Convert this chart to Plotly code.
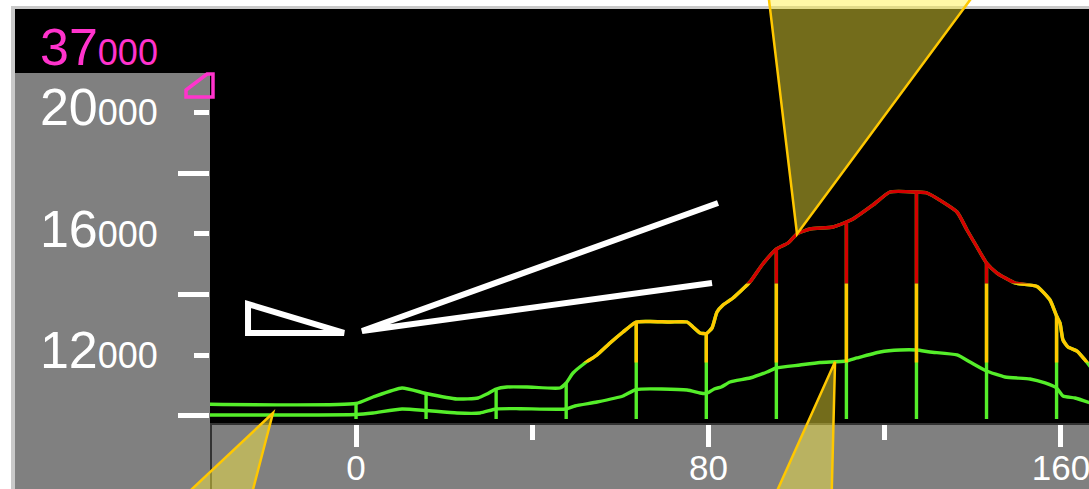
import plotly.graph_objects as go

# ---------------- data ----------------
dist_upper = [-33.14, 0, 3.86, 10.44, 15.9, 22.92, 27.69, 29.73, 31.8, 34.27, 38.81, 46.30, 47.7,
              49.25, 51.97, 54.70, 57.65, 60.60, 63.6, 66.73, 71.27, 75.13, 76.49, 78.08, 79.5,
              80.80, 81.93, 83.30, 85.56, 89.42, 92.15, 95.4, 98.05, 100.09, 103.04, 108.26,
              111.3, 112.80, 117.34, 121.20, 127.2, 129.60, 136.40, 138.67, 140.94, 143.1,
              145.48, 149.57, 154.56, 157.51, 159.0, 159.78, 160.46, 161.60, 163.64, 165.46, 167.73]
elev_upper = [10386, 10412, 10626, 10923, 10742, 10560, 10593, 10725, 10890, 10956, 10956, 10923, 11088,
              11417, 11747, 12011, 12406, 12769, 13098, 13115, 13098, 13098, 12933, 12736, 12719,
              12900, 13428, 13659, 13889, 14417, 14977, 15504, 15702, 15999, 16163, 16229,
              16394, 16493, 16955, 17383, 17383, 17350, 16724, 16131, 15570, 15043,
              14713, 14384, 14268, 13823, 13296, 13065, 12505, 12274, 12142, 11846, 11417]

dist_lower = [-33.14, 0, 3.86, 10.44, 15.9, 22.92, 28.14, 31.8, 37.22, 47.7, 49.70, 54.70, 60.60,
              63.6, 75.13, 78.08, 79.5, 81.30, 82.89, 84.88, 89.42, 93.28, 95.4, 100.77, 105.31,
              111.3, 113.71, 118.93, 123.47, 127.2, 130.28, 136.40, 139.36, 143.1, 147.30, 152.97,
              156.38, 159.0, 160.46, 163.18, 167.73]
elev_lower = [10033, 10049, 10099, 10231, 10181, 10099, 10099, 10231, 10241, 10231, 10330, 10461, 10659,
              10873, 10857, 10758, 10742, 10890, 10956, 11121, 11252, 11450, 11582, 11681, 11763,
              11813, 11912, 12109, 12175, 12175, 12109, 12011, 11780, 11483, 11285, 11220,
              11088, 10923, 10659, 10593, 10379]

marker_dist = [0, 15.9, 31.8, 47.7, 63.6, 79.5, 95.4, 111.3, 127.2, 143.1, 159.0]
marker_top = [10412, 10742, 10890, 11088, 13098, 12719, 15504, 16394, 17383, 15043, 13296]
marker_base = 9900

band_low = 11760
band_high = 14370

x_ticks = [0, 80, 160]
x_ticktext = ["0", "80", "160"]
x_minor = [40, 120]
y_ticks = [12000, 16000, 20000]
y_ticktext = ["<span style='font-size:52px'>12</span>000",
              "<span style='font-size:52px'>16</span>000",
              "<span style='font-size:52px'>20</span>000"]
y_minor = [10000, 14000, 18000]
top_label = "37<span style='font-size:36px'>000</span>"

# ---------------- layout constants ----------------
W, H = 1089, 489
ML, MR, MT, MB = 210, 0, 9, 66
X_RANGE = [-33.14, 166.36]
Y_RANGE = [9769, 23415]

GREEN = "#55ee2a"
GOLD = "#ffc800"
RED = "#d40000"
GRAY = "#808080"
FONT = "Liberation Sans, Arial, sans-serif"
LW = 3.4
LINE = dict(width=LW, shape="spline", smoothing=0.5)

PW, PH = W - ML - MR, H - MT - MB


def px_x(px):
    return (px - ML) / PW


def px_y(py):
    return (H - MB - py) / PH


def dx(x):
    return (x - X_RANGE[0]) / (X_RANGE[1] - X_RANGE[0])


def dy(v):
    return (v - Y_RANGE[0]) / (Y_RANGE[1] - Y_RANGE[0])


def path(pts, close=True):
    s = "M " + " L ".join(f"{dx(a):.5f},{dy(b):.5f}" for a, b in pts)
    return s + (" Z" if close else "")


d_low = dy(band_low)
d_high = dy(band_high)

vx, vy = [], []
for xm, top in zip(marker_dist, marker_top):
    vx += [xm, xm, None]
    vy += [marker_base, top, None]

fig = go.Figure()
# green base layer
fig.add_trace(go.Scatter(x=dist_lower, y=elev_lower, mode="lines",
                         line=dict(color=GREEN, **LINE), xaxis="x", yaxis="y"))
fig.add_trace(go.Scatter(x=vx, y=vy, mode="lines", line=dict(color=GREEN, width=LW),
                         xaxis="x", yaxis="y", connectgaps=False))
fig.add_trace(go.Scatter(x=dist_upper, y=elev_upper, mode="lines",
                         line=dict(color=GREEN, **LINE), xaxis="x", yaxis="y"))
# yellow band
fig.add_trace(go.Scatter(x=vx, y=vy, mode="lines", line=dict(color=GOLD, width=LW),
                         xaxis="x", yaxis="y2", connectgaps=False))
fig.add_trace(go.Scatter(x=dist_upper, y=elev_upper, mode="lines",
                         line=dict(color=GOLD, **LINE), xaxis="x", yaxis="y2"))
# red band
fig.add_trace(go.Scatter(x=vx, y=vy, mode="lines", line=dict(color=RED, width=LW),
                         xaxis="x", yaxis="y3", connectgaps=False))
fig.add_trace(go.Scatter(x=dist_upper, y=elev_upper, mode="lines",
                         line=dict(color=RED, **LINE), xaxis="x", yaxis="y3"))

shapes = []
# background pieces (below)
shapes.append(dict(type="rect", xref="paper", yref="paper", layer="below",
                   x0=px_x(15), x1=1.01, y0=px_y(H + 5), y1=px_y(MT), fillcolor=GRAY, line=dict(width=0)))
shapes.append(dict(type="rect", xref="paper", yref="paper", layer="below",
                   x0=0, x1=1.01, y0=0, y1=px_y(MT), fillcolor="black", line=dict(width=0)))
shapes.append(dict(type="rect", xref="paper", yref="paper", layer="below",
                   x0=px_x(15), x1=0, y0=px_y(73), y1=px_y(MT), fillcolor="black", line=dict(width=0)))
# light border
shapes.append(dict(type="rect", xref="paper", yref="paper", layer="below",
                   x0=px_x(11), x1=1.01, y0=px_y(9), y1=px_y(6), fillcolor="#c9c9c9", line=dict(width=0)))
shapes.append(dict(type="rect", xref="paper", yref="paper", layer="below",
                   x0=px_x(11), x1=px_x(15), y0=px_y(H + 5), y1=px_y(6), fillcolor="#c9c9c9", line=dict(width=0)))
# dark edge line below the plot on the left
shapes.append(dict(type="line", xref="paper", yref="paper", layer="below",
                   x0=px_x(211), x1=px_x(211), y0=0, y1=px_y(H + 5), line=dict(color="#333333", width=2)))

# white triangle and V lines
shapes.append(dict(type="path", xref="paper", yref="paper", layer="above",
                   path=path([(-24.51, 13691), (-24.51, 12736), (-2.72, 12736)]),
                   line=dict(color="white", width=6), fillcolor="rgba(0,0,0,0)"))
shapes.append(dict(type="path", xref="paper", yref="paper", layer="above",
                   path=path([(82.16, 17020), (1.36, 12802), (80.80, 14384)], close=False),
                   line=dict(color="white", width=6), fillcolor="rgba(0,0,0,0)"))
# pink marker
shapes.append(dict(type="path", xref="paper", yref="paper", layer="above",
                   path=path([(-38.58, 20745), (-33.82, 21272), (-32.46, 21272), (-32.46, 20514),
                              (-38.58, 20514)]),
                   line=dict(color="#ff33cc", width=3.5), fillcolor="rgba(0,0,0,0)"))
# yellow callout triangles
tri_fill = "rgba(255,240,60,0.45)"
for pts in ([(100.09, 15999), (93.6, 23876), (140.2, 23876)],
            [(-18.84, 10099), (-44.71, 6572), (-25.19, 6572)],
            [(108.72, 11790), (92.60, 6572), (107.81, 6572)]):
    shapes.append(dict(type="path", xref="paper", yref="paper", layer="above",
                       path=path(pts), line=dict(color=GOLD, width=2.5), fillcolor=tri_fill))

annotations = [dict(xref="paper", yref="paper", x=px_x(160), y=px_y(78), xanchor="right",
                    yanchor="bottom", text=top_label, showarrow=False,
                    font=dict(family=FONT, size=52, color="#ff33cc"))]

fig.update_layout(
    width=W, height=H, margin=dict(l=ML, r=MR, t=MT, b=MB, autoexpand=False),
    paper_bgcolor="white", plot_bgcolor="rgba(0,0,0,0)", showlegend=False,
    shapes=shapes, annotations=annotations,
    xaxis=dict(range=X_RANGE, anchor="y", showgrid=False, zeroline=False,
               showline=True, linecolor="#333333", linewidth=2,
               tickmode="array", tickvals=x_ticks, ticktext=x_ticktext,
               ticks="outside", ticklen=22, tickwidth=5, tickcolor="white",
               ticklabelstandoff=-9, ticklabeloverflow="allow",
               tickfont=dict(family=FONT, size=35, color="white"),
               minor=dict(tickmode="array", tickvals=x_minor, ticks="outside", ticklen=15,
                          tickwidth=5, tickcolor="white"),
               fixedrange=True),
    yaxis=dict(range=Y_RANGE, domain=[0, 1], anchor="x", showgrid=False, zeroline=False,
               showline=False, tickmode="array", tickvals=y_ticks, ticktext=y_ticktext,
               ticks="outside", ticklen=15, tickwidth=5, tickcolor="white",
               ticklabelstandoff=29, ticklabeloverflow="allow",
               tickfont=dict(family=FONT, size=36, color="white"),
               minor=dict(tickmode="array", tickvals=y_minor, ticks="outside", ticklen=31,
                          tickwidth=5, tickcolor="white"),
               fixedrange=True),
    yaxis2=dict(range=[band_low, band_high], domain=[d_low, d_high], anchor="x",
                visible=False, fixedrange=True),
    yaxis3=dict(range=[band_high, Y_RANGE[1]], domain=[d_high, 1], anchor="x",
                visible=False, fixedrange=True),
)

fig.write_html("out.html", config={"displayModeBar": False},
               post_script="document.body.style.margin='0px';"
                           "document.documentElement.style.overflow='hidden';")
